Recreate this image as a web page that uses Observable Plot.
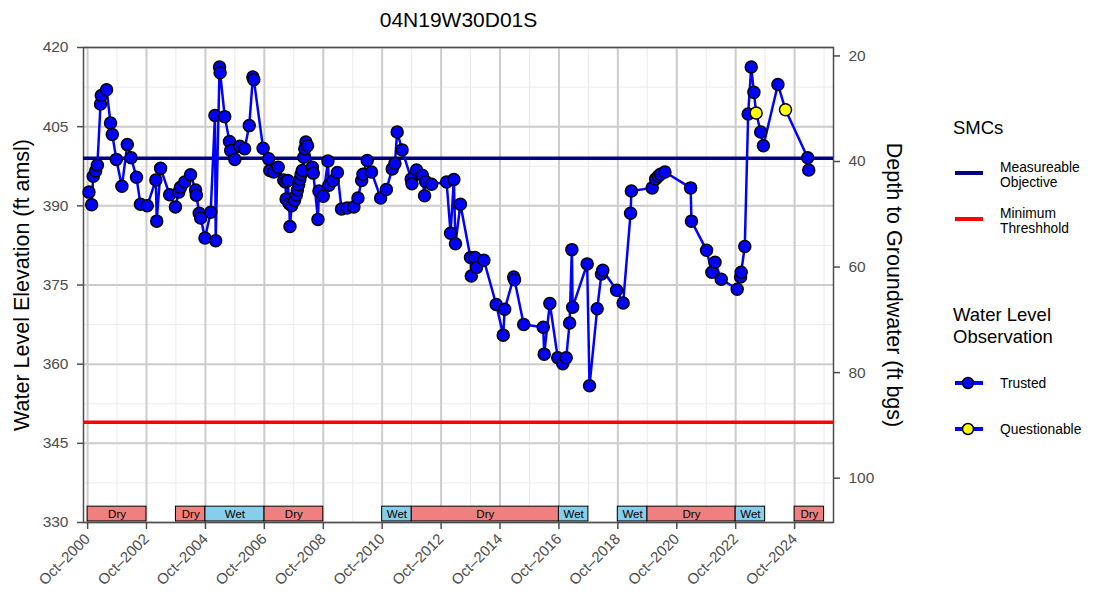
<!DOCTYPE html>
<html>
<head>
<meta charset="utf-8">
<script src="https://cdn.jsdelivr.net/npm/d3@7"></script>
<script src="https://cdn.jsdelivr.net/npm/@observablehq/plot@0.6"></script>
<style>
  body { margin: 0; background: #fff; font-family: "Liberation Sans", Arial, sans-serif; }
  #wrap { position: relative; width: 1097px; height: 599px; overflow: hidden; }
  #legend { position: absolute; left: 940px; top: 100px; }
</style>
</head>
<body>
<div id="wrap"></div>
<script>
// ---- Data ----
const title = "04N19W30D01S";
const obsDates = [
  "2000-10-18","2000-11-20","2000-12-10","2001-01-08","2001-01-30","2001-03-10","2001-03-20","2001-05-24",
  "2001-07-12","2001-08-03","2001-09-22","2001-11-30","2002-02-05","2002-03-25","2002-05-30","2002-07-18",
  "2002-10-10","2003-01-25","2003-02-05","2003-03-25","2003-07-15","2003-09-25","2003-11-05","2003-11-27",
  "2004-01-18","2004-03-30","2004-06-01","2004-06-10","2004-07-16","2004-08-03","2004-09-25","2004-12-05",
  "2005-01-27","2005-02-05","2005-03-25","2005-04-01","2005-05-28","2005-07-26","2005-08-10","2005-09-30",
  "2005-12-01","2006-01-30","2006-03-28","2006-05-12","2006-05-24","2006-09-16","2006-11-24","2006-12-08",
  "2007-01-26","2007-03-22","2007-05-30","2007-06-20","2007-06-28","2007-07-20","2007-08-05","2007-08-15",
  "2007-09-05","2007-10-10","2007-11-01","2007-11-15","2007-12-01","2007-12-15","2008-01-01","2008-01-15",
  "2008-02-03","2008-02-15","2008-02-28","2008-03-20","2008-05-18","2008-05-30","2008-07-27","2008-08-08",
  "2008-10-01","2008-11-28","2008-12-10","2009-01-30","2009-03-25","2009-05-15","2009-07-25","2009-10-15",
  "2009-12-05","2010-01-20","2010-02-05","2010-03-30","2010-05-22","2010-09-12","2010-11-22","2011-02-03",
  "2011-03-08","2011-04-05","2011-06-05","2011-09-26","2011-10-05","2011-12-01","2012-02-10","2012-03-10",
  "2012-03-22","2012-06-05","2012-12-08","2013-01-26","2013-03-08","2013-03-28","2013-05-28","2013-09-30",
  "2013-10-10","2013-11-25","2013-12-15","2014-03-15","2014-08-15","2014-11-10","2014-11-28","2015-03-20",
  "2015-03-30","2015-07-22","2016-03-20","2016-04-01","2016-06-10","2016-09-16","2016-11-17","2016-12-30",
  "2017-02-10","2017-03-10","2017-03-20","2017-09-16","2017-10-15","2018-01-18","2018-03-12","2018-03-28",
  "2018-09-16","2018-12-06","2019-03-08","2019-03-18","2019-12-01","2020-01-12","2020-02-14","2020-03-12",
  "2020-05-07","2021-03-22","2021-04-01","2021-10-05","2021-12-10","2022-01-18","2022-04-05","2022-10-20",
  "2022-12-01","2022-12-08","2023-01-22","2023-03-05","2023-04-12","2023-05-15","2023-06-12","2023-08-07",
  "2023-09-10","2024-03-08","2024-06-10","2025-03-12","2025-03-25"
];
const obsLevels = [
  392.6,390.2,395.6,396.6,397.7,409.3,410.9,412.0,
  405.7,403.5,398.8,393.7,401.6,399.1,395.4,390.3,
  390.0,394.9,387.1,397.1,392.1,389.8,392.6,393.5,
  394.5,395.9,393.0,392.0,388.6,387.7,383.9,388.8,
  407.1,383.4,416.3,415.2,406.9,402.2,400.5,398.8,
  401.3,400.8,405.2,414.4,413.9,400.9,398.9,396.7,
  396.4,397.3,394.9,394.5,391.3,394.8,390.4,386.1,
  390.0,391.0,392.0,393.0,394.0,395.0,396.0,396.7,
  399.2,400.8,402.1,401.4,397.3,396.2,387.4,392.8,
  391.8,398.5,393.9,394.8,396.3,389.4,389.6,389.8,
  391.5,394.8,396.0,398.6,396.4,391.5,393.1,397.0,
  398.0,404.0,400.6,395.1,394.2,396.8,395.8,391.9,
  394.6,394.1,394.5,384.8,395.0,382.8,390.3,380.2,
  376.7,380.2,378.3,379.7,371.3,365.5,370.4,376.5,
  376.0,367.5,367.0,361.9,371.5,361.2,360.1,361.2,
  367.8,381.7,370.8,379.0,355.9,370.5,377.1,377.8,
  374.0,371.6,388.6,392.8,393.4,395.1,395.6,396.0,
  396.4,393.4,387.1,381.6,377.4,379.3,376.1,374.2,
  376.5,377.4,382.3,407.4,416.3,411.5,407.6,404.0,
  401.4,413.0,408.2,399.1,396.8
];
const questionableDates = ["2023-06-12","2024-06-10"];

const seasonStarts = ["2000-10-01","2003-10-01","2004-10-01","2006-10-01","2010-10-01","2011-10-01","2016-10-01","2018-10-01","2019-10-01","2022-10-01","2024-10-01"];
const seasonEnds   = ["2002-10-01","2004-10-01","2006-10-01","2008-10-01","2011-10-01","2016-10-01","2017-10-01","2019-10-01","2022-10-01","2023-10-01","2025-10-01"];
const seasonTypes  = ["Dry","Dry","Wet","Dry","Wet","Dry","Wet","Wet","Dry","Wet","Dry"];

const measurableObjective = 399;
const minimumThreshold = 349;
const groundSurface = 438.4;

const elevTicks = [330, 345, 360, 375, 390, 405, 420];
const elevMinorTicks = [337.5, 352.5, 367.5, 382.5, 397.5, 412.5];
const depthTicks = [20, 40, 60, 80, 100];
const majorTickYears = [2000,2002,2004,2006,2008,2010,2012,2014,2016,2018,2020,2022,2024];
const minorTickYears = [2001,2003,2005,2007,2009,2011,2013,2015,2017,2019,2021,2023,2025];

// ---- Build tables ----
const obs = obsDates.map((d, i) => ({
  date: new Date(d), level: obsLevels[i], questionable: questionableDates.includes(d)
}));
const seasons = seasonStarts.map((s, i) => ({
  start: new Date(s), end: new Date(seasonEnds[i]), type: seasonTypes[i],
  mid: new Date((new Date(s).getTime() + new Date(seasonEnds[i]).getTime()) / 2)
}));
const octDate = y => new Date(Date.UTC(y, 9, 1));
const majorX = majorTickYears.map(octDate);
const minorX = minorTickYears.map(octDate);

const gray = "#4d4d4d";
const chart = Plot.plot({
  width: 1097, height: 599,
  marginLeft: 83, marginRight: 264, marginTop: 47, marginBottom: 77,
  style: { fontFamily: "'Liberation Sans', Arial, sans-serif", background: "white", overflow: "visible" },
  x: { type: "utc", domain: [new Date("2000-08-11"), new Date("2026-01-26")] },
  y: { domain: [330, 420] },
  marks: [
    Plot.gridX(minorX, { stroke: "#ebebeb", strokeOpacity: 1, strokeWidth: 1 }),
    Plot.gridY(elevMinorTicks, { stroke: "#ebebeb", strokeOpacity: 1, strokeWidth: 1 }),
    Plot.gridX(majorX, { stroke: "#cccccc", strokeOpacity: 1, strokeWidth: 2 }),
    Plot.gridY(elevTicks, { stroke: "#cccccc", strokeOpacity: 1, strokeWidth: 2 }),
    Plot.frame({ stroke: gray, strokeWidth: 1.5 }),
    Plot.axisX(majorX, {
      anchor: "bottom", tickSize: 7, tickRotate: -45, tickPadding: 7,
      tickFormat: d => "Oct\u2013" + d.getUTCFullYear(),
      fontSize: 15, color: gray, strokeWidth: 1.5, label: null
    }),
    Plot.axisY(elevTicks, {
      anchor: "left", tickSize: 6, tickPadding: 9, fontSize: 15.5, color: gray, strokeWidth: 1.5, label: null
    }),
    Plot.axisY(depthTicks.map(d => groundSurface - d), {
      anchor: "right", tickSize: 6, tickPadding: 9, fontSize: 15.5, color: gray, strokeWidth: 1.5,
      tickFormat: d => String(Math.round(groundSurface - d)), label: null
    }),
    Plot.text([title], { frameAnchor: "top", lineAnchor: "middle", dy: -27, fontSize: 21, fill: "black" }),
    Plot.text(["Water Level Elevation (ft amsl)"], { frameAnchor: "left", textAnchor: "middle", rotate: -90, dx: -61, fontSize: 21.5, fill: "black" }),
    Plot.text(["Depth to Groundwater (ft bgs)"], { frameAnchor: "right", textAnchor: "middle", rotate: 90, dx: 60, fontSize: 21.5, fill: "black" }),
    Plot.rect(seasons, { filter: d => d.type === "Dry", x1: "start", x2: "end", y1: 330.2, y2: 333, fill: "#F08080", stroke: "black", strokeWidth: 1 }),
    Plot.rect(seasons, { filter: d => d.type === "Wet", x1: "start", x2: "end", y1: 330.2, y2: 333, fill: "#87CEEB", stroke: "black", strokeWidth: 1 }),
    Plot.text(seasons, { x: "mid", y: 331.6, text: "type", fontSize: 11.5, fill: "black" }),
    Plot.ruleY([measurableObjective], { stroke: "#000080", strokeWidth: 3.5 }),
    Plot.ruleY([minimumThreshold], { stroke: "#ff0000", strokeWidth: 3.5 }),
    Plot.line(obs, { x: "date", y: "level", stroke: "#0000ff", strokeWidth: 2.5 }),
    Plot.dot(obs, { filter: d => !d.questionable, x: "date", y: "level", r: 6, fill: "#0000ff", stroke: "black", strokeWidth: 1.5 }),
    Plot.dot(obs, { filter: d => d.questionable, x: "date", y: "level", r: 6, fill: "#ffff00", stroke: "black", strokeWidth: 1.5 })
  ]
});
const wrap = document.getElementById("wrap");
wrap.appendChild(chart);

// ---- Legend ----
const legend = `
<svg id="legend" width="157" height="350" xmlns="http://www.w3.org/2000/svg" font-family="'Liberation Sans', Arial, sans-serif">
  <text x="13" y="34" font-size="18.5" fill="black">SMCs</text>
  <line x1="15" x2="43" y1="73" y2="73" stroke="#000080" stroke-width="4"/>
  <text x="60" y="72" font-size="13.8" fill="black">Measureable</text>
  <text x="60" y="87" font-size="13.8" fill="black">Objective</text>
  <line x1="15" x2="43" y1="119" y2="119" stroke="#ff0000" stroke-width="4"/>
  <text x="60" y="118" font-size="13.8" fill="black">Minimum</text>
  <text x="60" y="133" font-size="13.8" fill="black">Threshhold</text>
  <text x="13" y="221" font-size="18.5" fill="black">Water Level</text>
  <text x="13" y="243" font-size="18.5" fill="black">Observation</text>
  <line x1="15" x2="43" y1="283" y2="283" stroke="#0000ff" stroke-width="4"/>
  <circle cx="28" cy="283" r="5.5" fill="#0000ff" stroke="black" stroke-width="1.5"/>
  <text x="60" y="288" font-size="13.8" fill="black">Trusted</text>
  <line x1="15" x2="43" y1="329" y2="329" stroke="#0000ff" stroke-width="4"/>
  <circle cx="28" cy="329" r="5.5" fill="#ffff00" stroke="black" stroke-width="1.5"/>
  <text x="60" y="334" font-size="13.8" fill="black">Questionable</text>
</svg>`;
wrap.insertAdjacentHTML("beforeend", legend);
</script>
</body>
</html>
